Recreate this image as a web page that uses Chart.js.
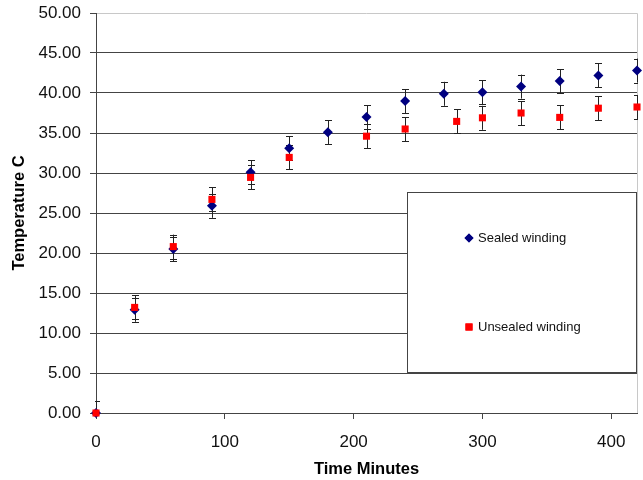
<!DOCTYPE html>
<html>
<head>
<meta charset="utf-8">
<script src="https://cdn.jsdelivr.net/npm/chart.js@4.4.1/dist/chart.umd.min.js"></script>
<style>
  html, body { margin: 0; padding: 0; background: #fff; }
  #wrap { width: 643px; height: 480px; }
</style>
</head>
<body>
<div id="wrap"><canvas id="tempChart" width="643" height="480"></canvas></div>
<script>
// data
const sealedTime = [0, 30, 60, 90, 120, 150, 180, 210, 240, 270, 300, 330, 360, 390, 420];
const sealedTemp = [0, 12.9, 20.5, 25.9, 30.1, 33.1, 35.1, 37.0, 39.0, 39.9, 40.1, 40.8, 41.5, 42.2, 42.8];
const sealedErr = [1.5, 1.5, 1.5, 1.5, 1.5, 1.5, 1.5, 1.5, 1.5, 1.5, 1.5, 1.5, 1.5, 1.5, 1.5];

const unsealedTime = [0, 30, 60, 90, 120, 150, 210, 240, 280, 300, 330, 360, 390, 420];
const unsealedTemp = [0, 13.2, 20.8, 26.7, 29.45, 31.95, 34.6, 35.5, 36.45, 36.9, 37.5, 36.95, 38.1, 38.25];
const unsealedErr = [1.5, 1.5, 1.5, 1.5, 1.5, 1.5, 1.5, 1.5, 1.5, 1.5, 1.5, 1.5, 1.5, 1.5];

const seriesNames = ["Sealed winding", "Unsealed winding"];
const xTickValues = [0, 100, 200, 300, 400];

const FONT = "'Liberation Sans', Arial, sans-serif";

function toPoints(xs, ys) {
    return xs.map((x, i) => ({ x: x, y: ys[i] }));
}

// error bars, drawn under the markers
const errorBars = {
    id: "errorBars",
    beforeDatasetsDraw(chart) {
        const ctx = chart.ctx;
        const xs = chart.scales.x, ys = chart.scales.y;
        const area = chart.chartArea;
        ctx.save();
        ctx.beginPath();
        ctx.rect(area.left - 1, area.top - 1, area.right - area.left + 2, area.bottom - area.top + 1);
        ctx.clip();
        ctx.strokeStyle = "#222";
        ctx.lineWidth = 1;
        chart.data.datasets.forEach((ds) => {
            ds.data.forEach((p, i) => {
                const e = ds.errors[i];
                const px = Math.round(xs.getPixelForValue(p.x)) + 0.5;
                const top = ys.getPixelForValue(p.y + e);
                const bot = ys.getPixelForValue(p.y - e);
                ctx.beginPath();
                ctx.moveTo(px, top);
                ctx.lineTo(px, bot);
                ctx.moveTo(px - 3.5, Math.round(top) + 0.5);
                ctx.lineTo(px + 3.5, Math.round(top) + 0.5);
                ctx.moveTo(px - 3.5, Math.round(bot) + 0.5);
                ctx.lineTo(px + 3.5, Math.round(bot) + 0.5);
                ctx.stroke();
            });
        });
        ctx.restore();
    },
};

// light frame on top/right of the plot area
const plotFrame = {
    id: "plotFrame",
    beforeDraw(chart) {
        const a = chart.chartArea;
        const ctx = chart.ctx;
        ctx.save();
        ctx.strokeStyle = "#c8c8c8";
        ctx.lineWidth = 1;
        ctx.beginPath();
        ctx.moveTo(a.left, Math.round(a.top) + 0.5);
        ctx.lineTo(Math.round(a.right) + 0.5, Math.round(a.top) + 0.5);
        ctx.lineTo(Math.round(a.right) + 0.5, a.bottom);
        ctx.stroke();
        ctx.restore();
    },
};

// boxed legend inside the plot
const boxLegend = {
    id: "boxLegend",
    afterDatasetsDraw(chart) {
        const ctx = chart.ctx;
        const bx = 407.5, by = 192.5, bw = 229, bh = 180;
        ctx.save();
        ctx.fillStyle = "#fff";
        ctx.fillRect(bx, by, bw, bh);
        ctx.strokeStyle = "#444";
        ctx.lineWidth = 1;
        ctx.strokeRect(bx, by, bw, bh);
        const rows = [238, 327];
        chart.data.datasets.forEach((ds, i) => {
            ctx.fillStyle = ds.backgroundColor;
            ctx.beginPath();
            Chart.helpers.drawPoint(ctx, {
                pointStyle: ds.pointStyle,
                radius: ds.legendRadius,
                borderWidth: 0,
                rotation: 0,
            }, 469, rows[i]);
            ctx.fill();
            ctx.fillStyle = "#111";
            ctx.font = "13px " + FONT;
            ctx.textBaseline = "middle";
            ctx.textAlign = "left";
            ctx.fillText(ds.label, 478, rows[i] + 0.5);
        });
        ctx.restore();
    },
};

const ctx = document.getElementById("tempChart").getContext("2d");
const tempChart = new Chart(ctx, {
    type: "scatter",
    data: {
        datasets: [
            {
                label: seriesNames[0],
                data: toPoints(sealedTime, sealedTemp),
                errors: sealedErr,
                pointStyle: "rectRot",
                pointRadius: 5,
                legendRadius: 4.5,
                backgroundColor: "#000080",
                borderColor: "#000080",
                borderWidth: 0,
                order: 1,
                clip: false,
            },
            {
                label: seriesNames[1],
                data: toPoints(unsealedTime, unsealedTemp),
                errors: unsealedErr,
                pointStyle: "rect",
                pointRadius: 5,
                legendRadius: 5,
                backgroundColor: "#ff0000",
                borderColor: "#ff0000",
                borderWidth: 0,
                order: 0,
                clip: false,
            },
        ],
    },
    options: {
        responsive: false,
        animation: false,
        events: [],
        layout: {
            padding: { left: 0, right: 6, top: 13, bottom: 0 },
        },
        plugins: {
            legend: { display: false },
            tooltip: { enabled: false },
        },
        scales: {
            x: {
                type: "linear",
                min: 0,
                max: 420,
                afterFit(scale) {
                    scale.height = 67;
                    scale.paddingLeft = 0;
                    scale.paddingRight = 0;
                },
                afterBuildTicks(scale) {
                    scale.ticks = xTickValues.map((v) => ({ value: v }));
                },
                ticks: {
                    color: "#111",
                    font: { family: FONT, size: 17 },
                    padding: 13,
                    maxRotation: 0,
                },
                grid: {
                    drawOnChartArea: false,
                    tickLength: 6,
                    color: "#444",
                },
                border: { color: "#444", width: 1 },
                title: {
                    display: true,
                    text: "Time Minutes",
                    color: "#000",
                    font: { family: FONT, size: 16.5, weight: "bold" },
                    padding: { top: 0, bottom: 1 },
                },
            },
            y: {
                min: 0,
                max: 50,
                afterFit(scale) {
                    scale.width = 96;
                    scale.paddingTop = 0;
                    scale.paddingBottom = 0;
                },
                ticks: {
                    stepSize: 5,
                    color: "#111",
                    font: { family: FONT, size: 17 },
                    padding: 9,
                    callback: (v) => Number(v).toFixed(2),
                },
                grid: {
                    tickLength: 6,
                    color: (c) => (c.tick && c.tick.value === 50 ? "rgba(0,0,0,0)" : "#444"),
                    tickColor: "#444",
                },
                border: { color: "#444", width: 1 },
                title: {
                    display: true,
                    text: "Temperature C",
                    color: "#000",
                    font: { family: FONT, size: 16.5, weight: "bold" },
                    padding: { top: 10, bottom: 4 },
                },
            },
        },
    },
    plugins: [plotFrame, errorBars, boxLegend],
});
</script>
</body>
</html>
